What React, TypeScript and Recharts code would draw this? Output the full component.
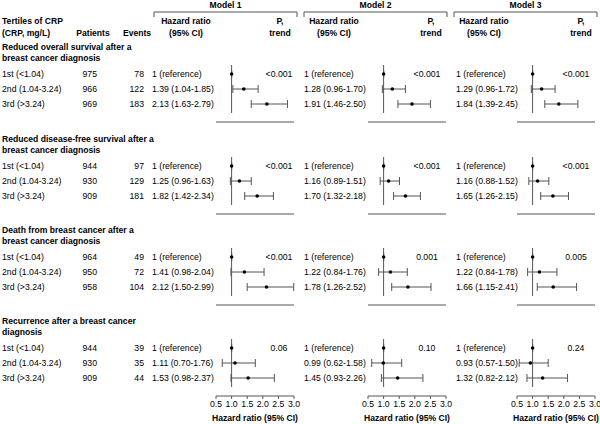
import React from "react";
import {
  ErrorBar,
  ReferenceLine,
  Scatter,
  ScatterChart,
  XAxis,
  YAxis,
} from "recharts";

const outcomeTitles = [
  ["Reduced overall survival after a", "breast cancer diagnosis"],
  ["Reduced disease-free survival after a", "breast cancer diagnosis"],
  ["Death from breast cancer after a", "breast cancer diagnosis"],
  ["Recurrence after a breast cancer", "diagnosis"],
];

const tertileLabels = ["1st  (<1.04)", "2nd (1.04-3.24)", "3rd  (>3.24)"];

const patients = [
  [975, 966, 969],
  [944, 930, 909],
  [964, 950, 958],
  [944, 930, 909],
];

const events = [
  [78, 122, 183],
  [97, 129, 181],
  [49, 72, 104],
  [39, 35, 44],
];

const models = ["Model 1", "Model 2", "Model 3"];

// hazard ratios for 2nd and 3rd tertile, [outcome][tertile]
const hrModel1 = [
  [1.39, 2.13],
  [1.25, 1.82],
  [1.41, 2.12],
  [1.11, 1.53],
];
const lowModel1 = [
  [1.04, 1.63],
  [0.96, 1.42],
  [0.98, 1.5],
  [0.7, 0.98],
];
const highModel1 = [
  [1.85, 2.79],
  [1.63, 2.34],
  [2.04, 2.99],
  [1.76, 2.37],
];
const pModel1 = ["<0.001", "<0.001", "<0.001", "0.06"];

const hrModel2 = [
  [1.28, 1.91],
  [1.16, 1.7],
  [1.22, 1.78],
  [0.99, 1.45],
];
const lowModel2 = [
  [0.96, 1.46],
  [0.89, 1.32],
  [0.84, 1.26],
  [0.62, 0.93],
];
const highModel2 = [
  [1.7, 2.5],
  [1.51, 2.18],
  [1.76, 2.52],
  [1.58, 2.26],
];
const pModel2 = ["<0.001", "<0.001", "0.001", "0.10"];

const hrModel3 = [
  [1.29, 1.84],
  [1.16, 1.65],
  [1.22, 1.66],
  [0.93, 1.32],
];
const lowModel3 = [
  [0.96, 1.39],
  [0.88, 1.26],
  [0.84, 1.15],
  [0.57, 0.82],
];
const highModel3 = [
  [1.72, 2.45],
  [1.52, 2.15],
  [1.78, 2.41],
  [1.5, 2.12],
];
const pModel3 = ["<0.001", "<0.001", "0.005", "0.24"];

const axisTicks = [0.5, 1.0, 1.5, 2.0, 2.5, 3.0];

const hrs = [hrModel1, hrModel2, hrModel3];
const lows = [lowModel1, lowModel2, lowModel3];
const highs = [highModel1, highModel2, highModel3];
const pTrends = [pModel1, pModel2, pModel3];

const FONT = '"Liberation Sans", Arial, Helvetica, sans-serif';
const GREY = "#555";

const sectionTop = [74, 166, 257, 348];
const ROW = 15;
const modelShift = [0, 152, 301];
const AXIS_LEFT = 216;
const AXIS_W = 78;
const PAD = 14;

function fmt(v: number) {
  return v.toFixed(2);
}

function rowsFor(m: number, s: number) {
  const rows = [{ row: 0, hr: 1, err: [0, 0] }];
  for (let t = 0; t < 2; t++) {
    const hr = hrs[m][s][t];
    rows.push({
      row: t + 1,
      hr,
      err: [hr - lows[m][s][t], highs[m][s][t] - hr],
    });
  }
  return rows;
}

function hrLabel(m: number, s: number, t: number) {
  if (t === 0) return "1 (reference)";
  const i = t - 1;
  return `${fmt(hrs[m][s][i])} (${fmt(lows[m][s][i])}-${fmt(highs[m][s][i])})`;
}

function Dot(props: any) {
  return <circle cx={props.cx} cy={props.cy} r={1.8} fill="#000" />;
}

function Forest({ m, s }: { m: number; s: number }) {
  const last = s === 3;
  const plotH = 58;
  const xH = last ? 32 : 6;
  return (
    <div
      style={{
        position: "absolute",
        left: AXIS_LEFT + modelShift[m] - PAD,
        top: sectionTop[s] - 10,
      }}
    >
      <ScatterChart
        width={AXIS_W + PAD * 2}
        height={plotH + xH}
        margin={{ top: 0, right: PAD, bottom: 0, left: PAD }}
      >
        <XAxis
          type="number"
          dataKey="hr"
          domain={[0.5, 3]}
          ticks={axisTicks}
          interval={0}
          allowDataOverflow
          height={xH}
          tickSize={3}
          tickFormatter={(v: number) => v.toFixed(1)}
          tick={last ? { fontSize: 8.7, fill: "#000", fontFamily: FONT } : false}
          axisLine={{ stroke: GREY }}
          tickLine={{ stroke: GREY }}
          label={
            last
              ? {
                  value: "Hazard ratio (95% CI)",
                  position: "insideBottom",
                  offset: 7,
                  style: { fontSize: 8.6, fontWeight: 700, fill: "#000", fontFamily: FONT },
                }
              : undefined
          }
        />
        <YAxis type="number" dataKey="row" domain={[-0.667, 3.2]} reversed hide />
        <ReferenceLine
          segment={[
            { x: 1, y: -0.6 },
            { x: 1, y: 2.6 },
          ]}
          stroke={GREY}
        />
        <Scatter data={rowsFor(m, s)} isAnimationActive={false} shape={Dot}>
          <ErrorBar dataKey="err" direction="x" width={4} stroke={GREY} strokeWidth={1} />
        </Scatter>
      </ScatterChart>
    </div>
  );
}

export default function App() {
  const text = { fontFamily: FONT, fontSize: 8.7, fill: "#000" };
  const bold = { ...text, fontSize: 8.6, fontWeight: 700 };
  const hrX = [152, 304, 456];
  const pX = [279, 427, 576];
  const hrHeadX = [186, 334, 484];
  const pHeadX = [280, 431, 581];
  const bracket = [
    [154, 297],
    [304, 447],
    [454, 597],
  ];
  return (
    <div
      style={{
        position: "absolute",
        left: 0,
        top: 0,
        width: 600,
        height: 424,
        background: "#fff",
        overflow: "hidden",
      }}
    >
      {models.map((_, m) =>
        outcomeTitles.map((__, s) => <Forest key={`${m}-${s}`} m={m} s={s} />)
      )}
      <svg
        width={600}
        height={424}
        style={{ position: "absolute", left: 0, top: 0, pointerEvents: "none" }}
      >
        <g dominantBaseline="central" style={{ whiteSpace: "pre" }}>
          <text x={2} y={21} {...bold}>Tertiles of CRP</text>
          <text x={2} y={33} {...bold}>(CRP, mg/L)</text>
          <text x={93} y={33} textAnchor="middle" {...bold}>Patients</text>
          <text x={137} y={33} textAnchor="middle" {...bold}>Events</text>
          {models.map((name, m) => (
            <g key={name}>
              <text x={(bracket[m][0] + bracket[m][1]) / 2} y={5} textAnchor="middle" {...bold}>
                {name}
              </text>
              <polyline
                points={`${bracket[m][0]},17 ${bracket[m][0]},12 ${bracket[m][1]},12 ${bracket[m][1]},17`}
                fill="none"
                stroke={GREY}
              />
              <text x={hrHeadX[m]} y={21} textAnchor="middle" {...bold}>Hazard ratio</text>
              <text x={hrHeadX[m]} y={33} textAnchor="middle" {...bold}>(95% CI)</text>
              <text x={pHeadX[m]} y={21} textAnchor="middle" {...bold}>P,</text>
              <text x={pHeadX[m]} y={33} textAnchor="middle" {...bold}>trend</text>
            </g>
          ))}
          {outcomeTitles.map((lines, s) => (
            <g key={`sec-${s}`}>
              <text x={2} y={sectionTop[s] - 27} {...bold}>{lines[0]}</text>
              <text x={2} y={sectionTop[s] - 16} {...bold}>{lines[1]}</text>
              {tertileLabels.map((lab, t) => {
                const y = sectionTop[s] + t * ROW;
                return (
                  <g key={lab}>
                    <text x={2} y={y} {...text}>{lab}</text>
                    <text x={97} y={y} textAnchor="end" {...text}>{patients[s][t]}</text>
                    <text x={144} y={y} textAnchor="end" {...text}>{events[s][t]}</text>
                    {models.map((_, m) => (
                      <text key={m} x={hrX[m]} y={y} {...text}>{hrLabel(m, s, t)}</text>
                    ))}
                  </g>
                );
              })}
              {models.map((_, m) => (
                <text key={`p-${m}`} x={pX[m]} y={sectionTop[s]} textAnchor="middle" {...text}>
                  {pTrends[m][s]}
                </text>
              ))}
            </g>
          ))}
        </g>
      </svg>
    </div>
  );
}
